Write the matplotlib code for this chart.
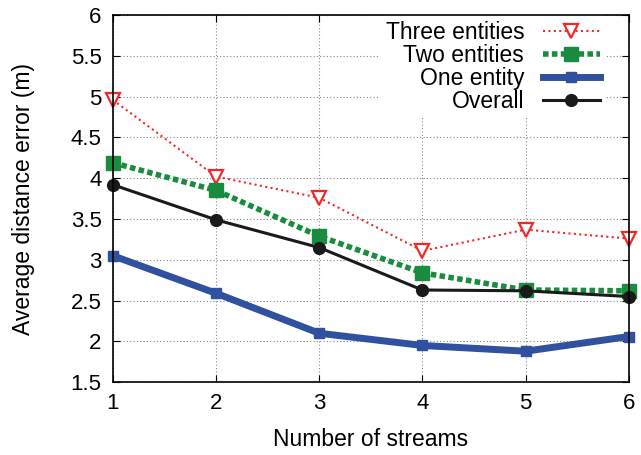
import matplotlib
matplotlib.use('Agg')
from matplotlib import pyplot as plt

plt.rcParams['font.family'] = ['Liberation Sans', 'DejaVu Sans']

streams = [1, 2, 3, 4, 5, 6]
three = [4.96, 4.02, 3.76, 3.11, 3.37, 3.26]
two = [4.19, 3.85, 3.29, 2.84, 2.63, 2.62]
one = [3.05, 2.59, 2.10, 1.95, 1.88, 2.06]
overall = [3.92, 3.49, 3.15, 2.63, 2.62, 2.55]

fig = plt.figure(figsize=(6.41, 4.55), dpi=100)
ax = fig.add_axes([0.176, 0.16, 0.805, 0.807])

ax.plot(streams, three, color='#f02828', linestyle=(0, (1, 1.6)), linewidth=1.5,
        marker='v', markersize=10, markerfacecolor='white', markeredgewidth=1.6,
        markeredgecolor='#f02828', label='Three entities', zorder=3, clip_on=False)
ax.plot(streams, two, color='#1a8c40', linestyle=(0, (1, 0.6)), linewidth=4,
        marker='s', markersize=9.5, label='Two entities', zorder=3, clip_on=False)
ax.plot(streams, one, color='#3050a0', linestyle='-', linewidth=5,
        marker='s', markersize=7, label='One entity', zorder=3, clip_on=False)
ax.plot(streams, overall, color='#1a1a1a', linestyle='-', linewidth=2.2,
        marker='o', markersize=8.5, label='Overall', zorder=4, clip_on=False)

ax.set_xlim(1, 6)
ax.set_ylim(1.5, 6)
ax.set_xticks(streams)
ax.set_yticks([1.5, 2, 2.5, 3, 3.5, 4, 4.5, 5, 5.5, 6])
ax.set_yticklabels(['1.5', '2', '2.5', '3', '3.5', '4', '4.5', '5', '5.5', '6'])
ax.grid(True, color='#888888', linestyle=(0, (1, 2)), linewidth=0.8)
ax.tick_params(direction='in', labelsize=16, length=5, pad=8, top=True, right=True)
for s in ax.spines.values():
    s.set_linewidth(1.2)
    s.set_zorder(6)

ax.set_xlabel('Number of streams', fontsize=16.5, labelpad=10)
ax.set_ylabel('Average distance error (m)', fontsize=16.5, labelpad=26)

leg = ax.legend(loc='upper right', markerfirst=False, fontsize=16.5, frameon=True,
                handlelength=2.5, labelspacing=0.0, borderaxespad=0.0,
                handletextpad=0.8, borderpad=0.25, bbox_to_anchor=(0.955, 1.0))
leg.get_frame().set_edgecolor('none')
leg.get_frame().set_facecolor('white')
leg.get_frame().set_alpha(1)

fig.savefig('out.png', dpi=100)
